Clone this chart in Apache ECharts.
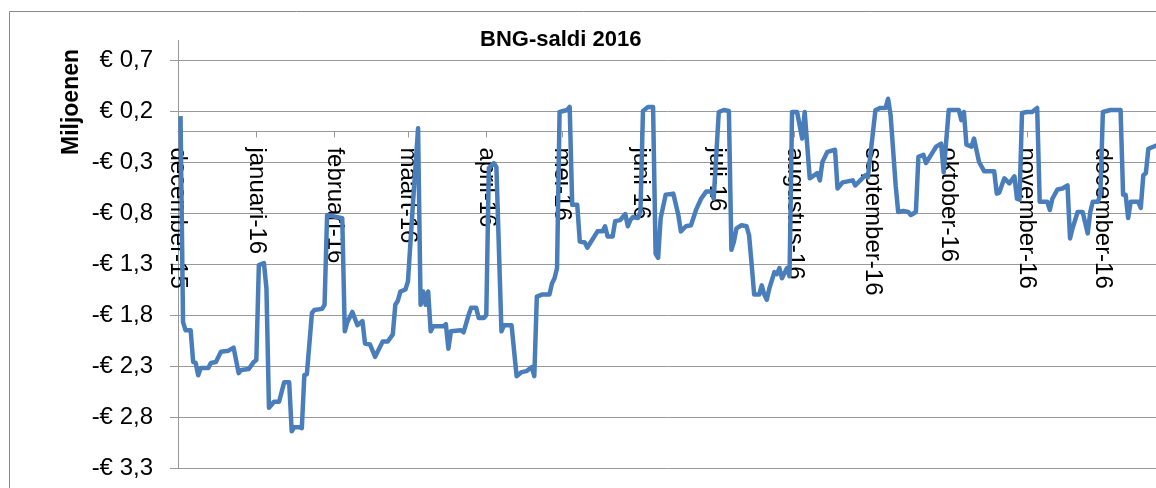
<!DOCTYPE html>
<html lang="nl">
<head>
<meta charset="UTF-8">
<title>BNG-saldi 2016</title>
<script src="https://cdn.jsdelivr.net/npm/echarts@6/dist/echarts.min.js"></script>
<style>
  html, body { margin: 0; padding: 0; background: #fff; }
  #chart { width: 1156px; height: 488px; }
</style>
</head>
<body>
<div id="chart"></div>
<script>
// maandnamen voor de as-labels
const maandNamen = ['januari', 'februari', 'maart', 'april', 'mei', 'juni',
  'juli', 'augustus', 'september', 'oktober', 'november', 'december'];

// dagen sinds 1 december 2015 en het saldo (miljoenen euro) op die dag
const dagen = [
  1, 2, 3, 5, 6, 7, 8, 9, 12, 13, 15, 17, 20, 22, 24, 25, 28, 30, 31, 32,
  34, 35, 36, 38, 40, 42, 44, 45, 46, 48, 49, 50, 51, 53, 54, 57, 58, 59, 65, 66,
  67, 69, 71, 73, 74, 76, 78, 81, 83, 85, 86, 87, 88, 90, 91, 93, 95, 96, 97, 98,
  99, 100, 101, 105, 106, 107, 108, 112, 113, 115, 116, 118, 119, 121, 122, 123, 125, 126, 128, 129,
  132, 134, 136, 138, 140, 141, 142, 144, 147, 148, 149, 150, 151, 154, 155, 156, 158, 159, 161, 162,
  164, 166, 168, 169, 170, 172, 173, 175, 177, 178, 179, 180, 182, 183, 184, 186, 188, 189, 190, 191,
  193, 196, 198, 199, 201, 203, 205, 207, 209, 211, 212, 214, 216, 218, 219, 220, 221, 223, 225, 226,
  227, 228, 230, 231, 232, 233, 234, 235, 236, 237, 238, 239, 241, 242, 243, 245, 247, 248, 250, 253,
  254, 255, 257, 260, 261, 263, 267, 268, 270, 272, 273, 276, 278, 280, 281, 282, 284, 285, 287, 289,
  290, 292, 293, 295, 296, 298, 300, 302, 303, 305, 309, 310, 311, 312, 314, 315, 317, 319, 323, 324,
  325, 327, 329, 331, 332, 333, 334, 336, 338, 340, 341, 344, 345, 346, 348, 350, 352, 353, 354, 356,
  358, 360, 361, 362, 364, 365, 366, 369, 373, 374, 375, 376, 377, 380, 381, 382, 383, 384, 388
];
const saldi = [
  0.15, -1.87, -1.95, -1.95, -2.26, -2.27, -2.39, -2.32, -2.32, -2.27, -2.26, -2.16, -2.15, -2.12, -2.37, -2.34, -2.33, -2.26, -2.24, -1.31,
  -1.29, -1.54, -2.71, -2.65, -2.65, -2.46, -2.46, -2.94, -2.90, -2.90, -2.91, -2.39, -2.38, -1.78, -1.75, -1.74, -1.70, -0.82, -0.85, -1.96,
  -1.87, -1.77, -1.90, -1.86, -2.08, -2.09, -2.21, -2.06, -2.06, -1.99, -1.70, -1.66, -1.57, -1.55, -1.47, -0.70, 0.03, -1.70, -1.57, -1.70,
  -1.57, -1.96, -1.91, -1.91, -1.89, -2.13, -1.96, -1.95, -1.97, -1.80, -1.73, -1.73, -1.83, -1.83, -1.80, -0.36, -0.31, -0.35, -1.96, -1.90,
  -1.90, -2.40, -2.36, -2.35, -2.31, -2.40, -1.62, -1.60, -1.60, -1.49, -1.44, -1.34, 0.19, 0.21, 0.24, -0.72, -0.72, -1.08, -1.09, -1.14,
  -1.06, -0.98, -0.98, -0.93, -1.03, -1.03, -0.88, -0.87, -0.81, -0.93, -0.87, -0.84, -0.85, -0.79, 0.20, 0.24, 0.24, -1.20, -1.24, -0.85,
  -0.62, -0.61, -0.82, -0.98, -0.93, -0.92, -0.77, -0.66, -0.59, -0.59, -0.66, 0.19, 0.21, 0.20, -1.16, -1.08, -0.95, -0.92, -0.93, -1.02,
  -1.30, -1.60, -1.60, -1.51, -1.60, -1.65, -1.54, -1.46, -1.38, -1.40, -1.34, -1.44, -1.34, -1.42, 0.19, 0.19, -0.07, 0.19, -0.46, -0.41,
  -0.48, -0.30, -0.20, -0.18, -0.56, -0.50, -0.48, -0.53, -0.48, -0.43, -0.45, 0.21, 0.23, 0.23, 0.32, 0.16, -0.53, -0.79, -0.78, -0.79,
  -0.82, -0.79, -0.25, -0.23, -0.31, -0.23, -0.15, -0.12, -0.40, 0.21, 0.21, 0.11, 0.19, -0.13, -0.15, -0.07, -0.30, -0.39, -0.39, -0.61,
  -0.60, -0.46, -0.51, -0.44, -0.66, -0.67, 0.18, 0.19, 0.19, 0.23, -0.69, -0.69, -0.77, -0.66, -0.57, -0.56, -0.53, -1.05, -0.95, -0.79,
  -0.79, -1.00, -0.79, -0.69, -0.69, -0.62, 0.19, 0.21, 0.21, -0.62, -0.62, -0.85, -0.69, -0.69, -0.75, -0.43, -0.41, -0.17, -0.13
];

// alle kalenderdagen van 1 dec 2015 t/m 31 dec 2016
const datums = [];
for (let i = 0; i < 397; i++) {
  datums.push(new Date(2015, 11, 1 + i));
}
const categorieen = datums.map(d => d.getFullYear() + '-' + (d.getMonth() + 1) + '-' + d.getDate());

const eersteVanMaand = (index) => datums[index] && datums[index].getDate() === 1;

const font = '"Liberation Sans", Arial, sans-serif';
const yMin = -3.3, yMax = 0.7, plotHoogte = 408;

function euro(v) {
  const s = Math.abs(v).toFixed(1).replace('.', ',');
  return (v < 0 ? '-€ ' : '€ ') + s;
}

const chart = echarts.init(document.getElementById('chart'));
chart.setOption({
  animation: false,
  title: {
    text: 'BNG-saldi 2016',
    left: 480,
    top: 29,
    padding: 0,
    textStyle: { fontFamily: font, fontSize: 22, fontWeight: 'bold', color: '#000' }
  },
  grid: {
    left: 178, top: 60, width: 396 * 2.527, height: plotHoogte,
    containLabel: false, outerBoundsMode: 'none'
  },
  xAxis: {
    type: 'category',
    data: categorieen,
    boundaryGap: false,
    position: 'bottom',
    // de as ligt op de nullijn
    offset: -plotHoogte * (0 - yMin) / (yMax - yMin),
    axisLine: { onZero: false, lineStyle: { color: '#999', width: 1 } },
    axisTick: { interval: eersteVanMaand, length: 6, lineStyle: { color: '#999' } },
    axisLabel: {
      interval: eersteVanMaand,
      rotate: -90,
      margin: 16,
      fontFamily: font,
      fontSize: 24,
      color: '#000',
      formatter: (value, index) => {
        const d = datums[index];
        return maandNamen[d.getMonth()] + '-' + String(d.getFullYear()).slice(2);
      }
    },
    splitLine: { show: false }
  },
  yAxis: {
    type: 'value',
    min: yMin,
    max: yMax,
    interval: 0.5,
    axisLine: { show: true, lineStyle: { color: '#999', width: 1 } },
    axisTick: { show: true, length: 8, lineStyle: { color: '#999' } },
    axisLabel: { margin: 25, fontFamily: font, fontSize: 24, color: '#000', formatter: euro },
    splitLine: { show: true, lineStyle: { color: '#999', width: 1 } }
  },
  graphic: [
    {
      type: 'rect',
      shape: { x: 9.5, y: 11.5, width: 1300, height: 600 },
      style: { fill: 'none', stroke: '#8a8a8a', lineWidth: 1 },
      silent: true
    },
    {
      type: 'line',
      shape: { x1: 178.5, y1: 40, x2: 178.5, y2: 60 },
      style: { stroke: '#999', lineWidth: 1 },
      silent: true
    },
    {
      type: 'text',
      x: 72,
      y: 102,
      rotation: Math.PI / 2,
      style: {
        text: 'Miljoenen',
        fontFamily: font,
        fontSize: 23,
        fontWeight: 'bold',
        fill: '#000',
        textAlign: 'center',
        textVerticalAlign: 'middle'
      }
    }
  ],
  series: [{
    type: 'line',
    zlevel: 1,
    data: dagen.map((d, i) => [d, saldi[i]]),
    showSymbol: false,
    lineStyle: { color: '#4a7ebb', width: 4.5, join: 'round' },
    itemStyle: { color: '#4a7ebb' }
  }]
});
</script>
</body>
</html>
